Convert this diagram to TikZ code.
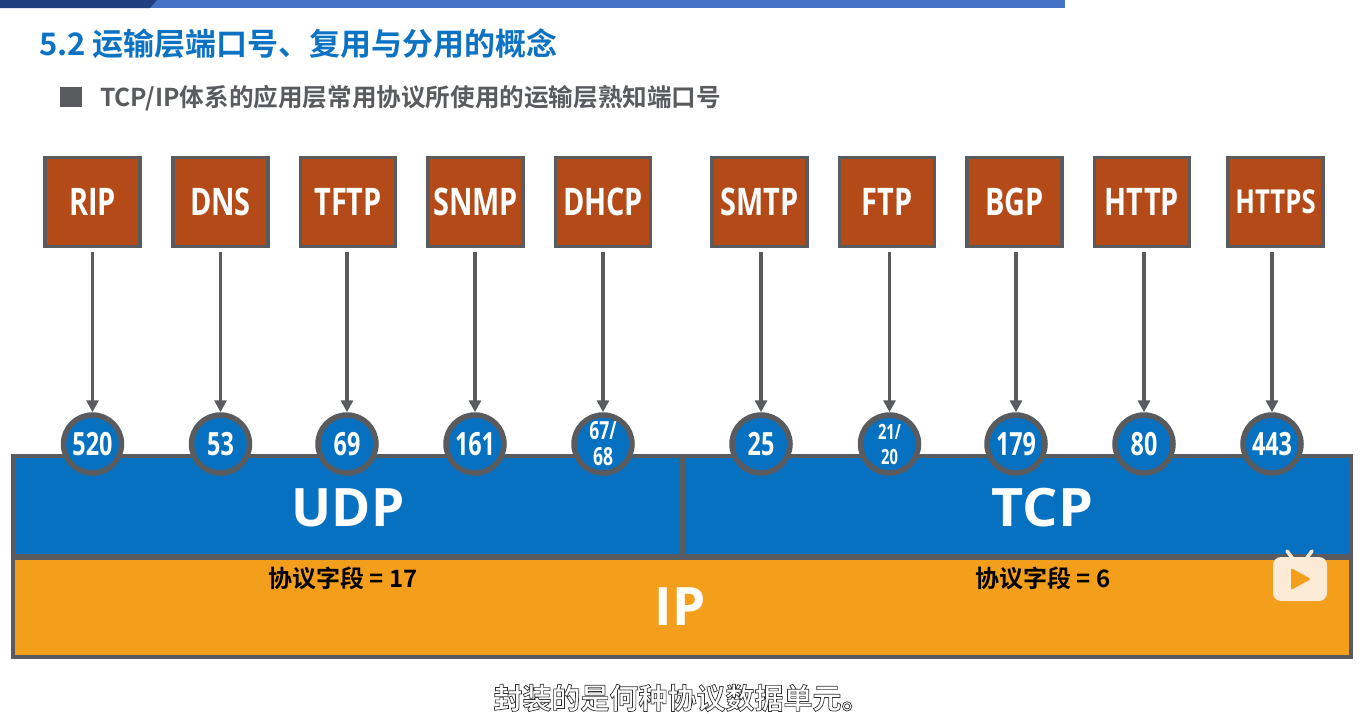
\documentclass[tikz,border=0pt]{standalone}
\usepackage{fontspec}
\setmainfont{Open Sans}
\newfontfamily\cjk{Noto Sans CJK SC}[BoldFont={Noto Sans CJK SC Bold}]
\usetikzlibrary{arrows.meta,calc}
\definecolor{framegrey}{HTML}{595B5E}
\definecolor{boxred}{HTML}{B34A17}
\definecolor{netblue}{HTML}{0670C1}
\definecolor{iporange}{HTML}{F39F1B}
\definecolor{titleblue}{HTML}{0B72C4}
\definecolor{bandblue}{HTML}{4472C4}
\definecolor{bandnavy}{HTML}{1F3F7F}
\definecolor{cream}{HTML}{FBEBD6}
\newcommand{\squeeze}[2][0.86]{\scalebox{#1}[1]{#2}}
\tikzset{
  protobox/.style={draw=framegrey,line width=3.5pt,fill=boxred,text=white,minimum width=95pt,minimum height=89pt,inner sep=0pt,font=\fontsize{38}{38}\bfseries},
  portdot/.style={circle,draw=framegrey,line width=5.5pt,fill=netblue,text=white,minimum size=58pt,inner sep=0pt,font=\fontsize{32}{32}\bfseries},
  flow/.style={draw=framegrey,line width=3.4pt,-{Triangle[length=12pt,width=12pt]},shorten <=4pt},
  bigword/.style={text=white,inner sep=0pt,font=\fontsize{53}{53}\bfseries},
  fieldnote/.style={text=black,inner sep=0pt,font=\fontsize{24}{24}\bfseries\cjk},
  band/.style={draw=framegrey,line width=4pt,inner sep=0pt,anchor=north west}
}
\begin{document}
\begin{tikzpicture}[x=1pt,y=-1pt]
\useasboundingbox (0,0) rectangle (1365,713);
\fill[white] (0,0) rectangle (1365,713);
\fill[bandblue] (0,0) rectangle (1065,8);
\fill[bandnavy] (0,0) -- (157,0) -- (150,8) -- (0,8) -- cycle;
\node[anchor=west,inner sep=0pt,text=titleblue,font=\fontsize{31}{31}\bfseries\cjk] (title) at (39,44) {5.2 运输层端口号、复用与分用的概念};
\node[fill=framegrey,minimum width=22pt,minimum height=20pt,inner sep=0pt] (bullet) at (71,97) {};
\node[anchor=west,inner sep=0pt,text=framegrey,font=\fontsize{24.6}{25}\bfseries\cjk] (sub) at (100,98.5) {TCP/IP体系的应用层常用协议所使用的运输层熟知端口号};

% transport and network layers
\node[band,fill=netblue,minimum width=669pt,minimum height=100pt] (udp) at (11,454) {};
\node[band,fill=netblue,minimum width=667pt,minimum height=100pt] (tcp) at (682,454) {};
\node[band,fill=iporange,minimum width=1338pt,minimum height=99pt] (ip) at (11,556) {};
\node[bigword] (udpl) at (348,508) {UDP};
\node[bigword] (tcpl) at (1042.5,508) {\squeeze[1.05]{TCP}};
\node[bigword] (ipl) at (680,607) {IP};
\node[fieldnote] (f17) at (343,578) {协议字段 = 17};
\node[fieldnote] (f6) at (1043,578) {协议字段 = 6};

% application protocols
\foreach \n/\x/\t in {1/92.5/RIP,2/220.5/DNS,3/348/TFTP,4/475.5/SNMP,5/603/DHCP,6/759.5/SMTP,7/887/FTP,8/1014.5/BGP,9/1142/HTTP}
  \node[protobox] (b\n) at (\x,202) {\squeeze[0.76]{\t}};
\node[protobox,font=\fontsize{33}{33}\bfseries] (b10) at (1275.5,202) {\squeeze[0.78]{HTTPS}};

% ports
\foreach \n/\x/\t in {1/92.5/520,2/220.5/53,3/347/69,4/475/161,6/761/25,8/1016/179,9/1144/80,10/1272/443}
  \node[portdot] (c\n) at (\x,444) {\squeeze[0.73]{\t}};
\node[portdot,font=\fontsize{25}{27}\bfseries,align=center] (c5) at (603,444) {\squeeze[0.7]{67/}\\[-1pt]\squeeze[0.7]{68}};
\node[portdot,font=\fontsize{21}{26}\bfseries,align=center] (c7) at (889.5,444) {\squeeze[0.7]{21/}\\[-1pt]\squeeze[0.7]{20}};

% connectors
\foreach \n in {1,...,10}
  \draw[flow] (b\n.south -| c\n) -- (c\n.north);

% player badge
\draw[cream,line width=3.5pt,line cap=round] (1287,551) -- (1293,559) (1312,551) -- (1306,559);
\fill[cream,rounded corners=8pt] (1273,557) rectangle (1327,601);
\fill[iporange,rounded corners=2pt] (1291,568) -- (1291,590) -- (1311,579) -- cycle;

% caption
\node[inner sep=0pt,text=white,font=\fontsize{29}{29}\bfseries\cjk] (cap) at (682,698) {\special{pdf:code q 2 Tr 0.7 w 0.2 0.2 0.2 RG}封装的是何种协议数据单元。\special{pdf:code Q}};
\end{tikzpicture}
\end{document}
